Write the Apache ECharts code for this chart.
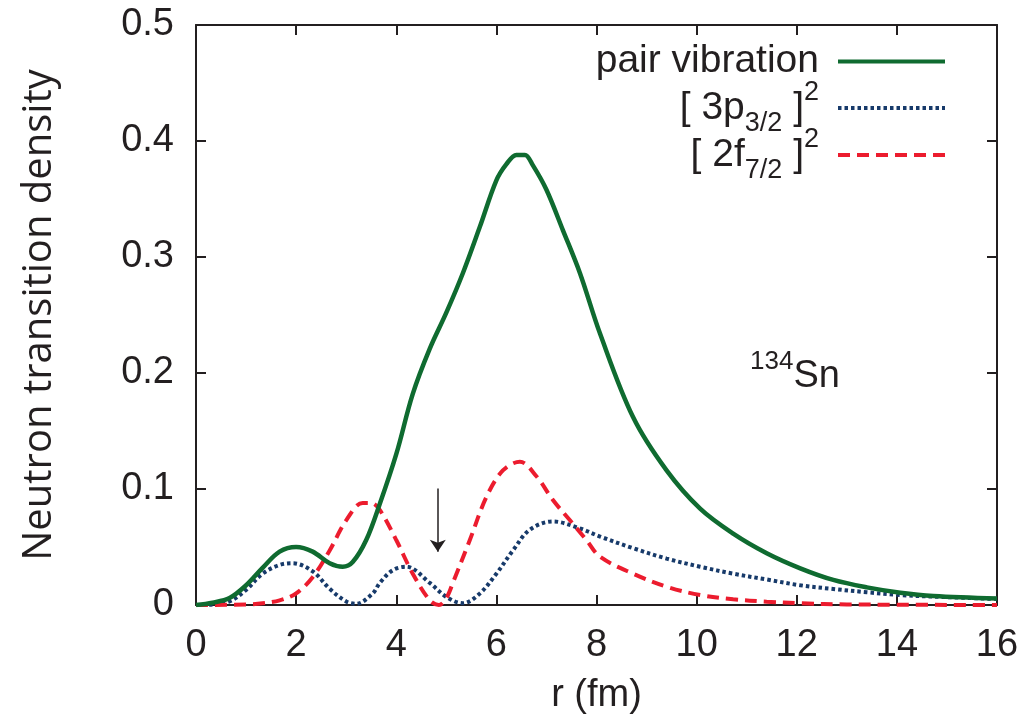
<!DOCTYPE html>
<html>
<head>
<meta charset="utf-8">
<title>Neutron transition density</title>
<script src="https://cdn.jsdelivr.net/npm/echarts@6/dist/echarts.min.js"></script>
<style>
    html, body { margin: 0; padding: 0; background: #fff; }
    #main { width: 1025px; height: 725px; }
</style>
</head>
<body>
<div id="main"></div>
<script>
    // pair vibration
    var pairR = [0, 0.33, 0.67, 1.0, 1.33, 1.67, 2.0, 2.33, 2.67, 2.93, 3.13, 3.4, 3.67, 4.0, 4.33, 4.67, 5.0, 5.33, 5.67, 6.0, 6.2, 6.4, 6.57, 6.73, 7.0, 7.33, 7.67, 8.07, 8.73, 9.4, 10.07, 10.73, 11.4, 12.07, 12.73, 13.4, 14.07, 14.73, 16];
    var pairV = [0, 0.002, 0.006, 0.017, 0.032, 0.046, 0.050, 0.046, 0.036, 0.033, 0.037, 0.056, 0.087, 0.130, 0.182, 0.221, 0.252, 0.286, 0.326, 0.366, 0.380, 0.388, 0.388, 0.379, 0.358, 0.323, 0.286, 0.234, 0.162, 0.116, 0.083, 0.0615, 0.0446, 0.0316, 0.0216, 0.0152, 0.0106, 0.0078, 0.0056];

    // [3p3/2]^2
    var p32R = [0, 0.33, 0.67, 1.0, 1.33, 1.67, 1.93, 2.33, 2.67, 3.0, 3.2, 3.53, 3.67, 3.93, 4.2, 4.67, 5.0, 5.33, 5.67, 6.0, 6.33, 6.67, 7.13, 7.67, 8.07, 8.73, 9.4, 10.07, 10.73, 11.4, 12.07, 12.73, 13.4, 14.07, 14.73, 16];
    var p32V = [0, 0.0005, 0.003, 0.013, 0.027, 0.0345, 0.036, 0.029, 0.014, 0.003, 0.001, 0.010, 0.019, 0.030, 0.033, 0.019, 0.007, 0.0015, 0.010, 0.027, 0.047, 0.065, 0.072, 0.066, 0.059, 0.049, 0.040, 0.033, 0.027, 0.022, 0.017, 0.0138, 0.011, 0.0086, 0.0072, 0.0052];

    // [2f7/2]^2
    var f72R = [0, 1.0, 1.33, 1.67, 2.0, 2.33, 2.67, 3.0, 3.33, 3.5, 3.67, 4.0, 4.33, 4.67, 4.85, 5.0, 5.13, 5.47, 5.8, 6.13, 6.47, 6.8, 7.13, 7.47, 7.8, 8.07, 8.73, 9.4, 10.07, 10.73, 11.4, 12.07, 13, 16];
    var f72V = [0, 0.0005, 0.0015, 0.004, 0.010, 0.024, 0.047, 0.073, 0.088, 0.088, 0.082, 0.056, 0.027, 0.004, 0.0, 0.006, 0.019, 0.056, 0.093, 0.116, 0.1235, 0.111, 0.0905, 0.073, 0.056, 0.0416, 0.027, 0.0158, 0.0086, 0.0049, 0.0029, 0.0015, 0.0005, 0];

    // arrow marking the node
    var arrowR = 4.83;
    var arrowV = [0.1005, 0.046];

    var xTicks = [0, 2, 4, 6, 8, 10, 12, 14, 16];
    var yTicks = [0, 0.1, 0.2, 0.3, 0.4, 0.5];

    var legendNames = ['pair vibration', '3p', '2f'];

    function pairs(rs, vs) {
        var out = [];
        for (var i = 0; i < rs.length; i++) {
            out.push([rs[i], vs[i]]);
        }
        return out;
    }

    var font = 'Liberation Sans';
    var black = '#231f20';

    var legendRich = {
        m: {fontFamily: font, fontSize: 39, color: black, lineHeight: 58, verticalAlign: 'middle'},
        sub: {fontFamily: font, fontSize: 27, color: black, lineHeight: 26, verticalAlign: 'bottom'},
        sup: {fontFamily: font, fontSize: 27, color: black, lineHeight: 26, verticalAlign: 'top'}
    };

    function legendText(name) {
        if (name === '3p') {
            return '{m|[ 3p}{sub|3/2}{m| ]}{sup|2}';
        }
        if (name === '2f') {
            return '{m|[ 2f}{sub|7/2}{m| ]}{sup|2}';
        }
        return '{m|' + name + '}';
    }

    function makeLegend(name, top) {
        return {
            data: [name],
            right: 78,
            top: top,
            orient: 'vertical',
            align: 'right',
            padding: 0,
            itemWidth: 107,
            itemHeight: 14,
            selectedMode: false,
            formatter: legendText,
            itemStyle: {color: 'rgba(0,0,0,0)', borderWidth: 0},
            lineStyle: {width: 4},
            textStyle: {
                padding: [0, 14, 0, 0],
                rich: legendRich
            }
        };
    }

    var axisLine = {show: true, onZero: false, lineStyle: {color: black, width: 2}};
    var axisTick = {show: true, inside: true, length: 10, lineStyle: {color: black, width: 2}};

    var chart = echarts.init(document.getElementById('main'));
    var option = {
        backgroundColor: '#fff',
        animation: false,
        grid: {left: 196, right: 28, top: 25, bottom: 120},
        title: {
            text: '{sup|134}{m|Sn}',
            left: 750,
            top: 349,
            padding: 0,
            textStyle: {
                fontWeight: 'normal',
                rich: {
                    m: {fontFamily: font, fontSize: 38, fontWeight: 'normal', color: black, lineHeight: 56, verticalAlign: 'middle'},
                    sup: {fontFamily: font, fontSize: 26, fontWeight: 'normal', color: black, lineHeight: 26, verticalAlign: 'top'}
                }
            }
        },
        legend: [
            makeLegend(legendNames[0], 42),
            makeLegend(legendNames[1], 79),
            makeLegend(legendNames[2], 126)
        ],
        xAxis: [{
            type: 'value',
            min: xTicks[0],
            max: xTicks[xTicks.length - 1],
            interval: xTicks[1] - xTicks[0],
            position: 'bottom',
            name: 'r (fm)',
            nameLocation: 'middle',
            nameGap: 72,
            nameTextStyle: {fontFamily: font, fontSize: 38, color: black},
            axisLine: axisLine,
            axisTick: axisTick,
            axisLabel: {fontFamily: font, fontSize: 38, color: black, margin: 22},
            splitLine: {show: false}
        }, {
            type: 'value',
            min: xTicks[0],
            max: xTicks[xTicks.length - 1],
            interval: xTicks[1] - xTicks[0],
            position: 'top',
            axisLine: axisLine,
            axisTick: axisTick,
            axisLabel: {show: false},
            splitLine: {show: false}
        }],
        yAxis: [{
            type: 'value',
            min: yTicks[0],
            max: yTicks[yTicks.length - 1],
            interval: yTicks[1] - yTicks[0],
            position: 'left',
            name: 'Neutron transition density',
            nameLocation: 'middle',
            nameGap: 136,
            nameTextStyle: {fontFamily: 'Open Sans', fontSize: 40, color: black},
            axisLine: axisLine,
            axisTick: axisTick,
            axisLabel: {
                fontFamily: font, fontSize: 38, color: black, margin: 22,
                formatter: function (v) {
                    return v === 0 ? '0' : v.toFixed(1);
                }
            },
            splitLine: {show: false}
        }, {
            type: 'value',
            min: yTicks[0],
            max: yTicks[yTicks.length - 1],
            interval: yTicks[1] - yTicks[0],
            position: 'right',
            axisLine: axisLine,
            axisTick: axisTick,
            axisLabel: {show: false},
            splitLine: {show: false}
        }],
        series: [
            {
                name: legendNames[1],
                type: 'line',
                data: pairs(p32R, p32V),
                smooth: 0.35,
                symbol: 'none',
                lineStyle: {color: '#173a6a', width: 4, type: [3.5, 3], cap: 'butt'},
                itemStyle: {color: '#173a6a'}
            },
            {
                name: legendNames[2],
                type: 'line',
                data: pairs(f72R, f72V),
                smooth: 0.35,
                symbol: 'none',
                lineStyle: {color: '#ec1c2e', width: 4, type: [12, 7]},
                itemStyle: {color: '#ec1c2e'},
                markLine: {
                    silent: true,
                    symbol: ['none', 'arrow'],
                    symbolSize: 12,
                    label: {show: false},
                    lineStyle: {color: black, width: 1.5, type: 'solid'},
                    data: [[{coord: [arrowR, arrowV[0]]}, {coord: [arrowR, arrowV[1]]}]]
                }
            },
            {
                name: legendNames[0],
                type: 'line',
                data: pairs(pairR, pairV),
                smooth: 0.35,
                symbol: 'none',
                lineStyle: {color: '#0f6b30', width: 4.5},
                itemStyle: {color: '#0f6b30'}
            }
        ]
    };
    chart.setOption(option);
</script>
</body>
</html>
